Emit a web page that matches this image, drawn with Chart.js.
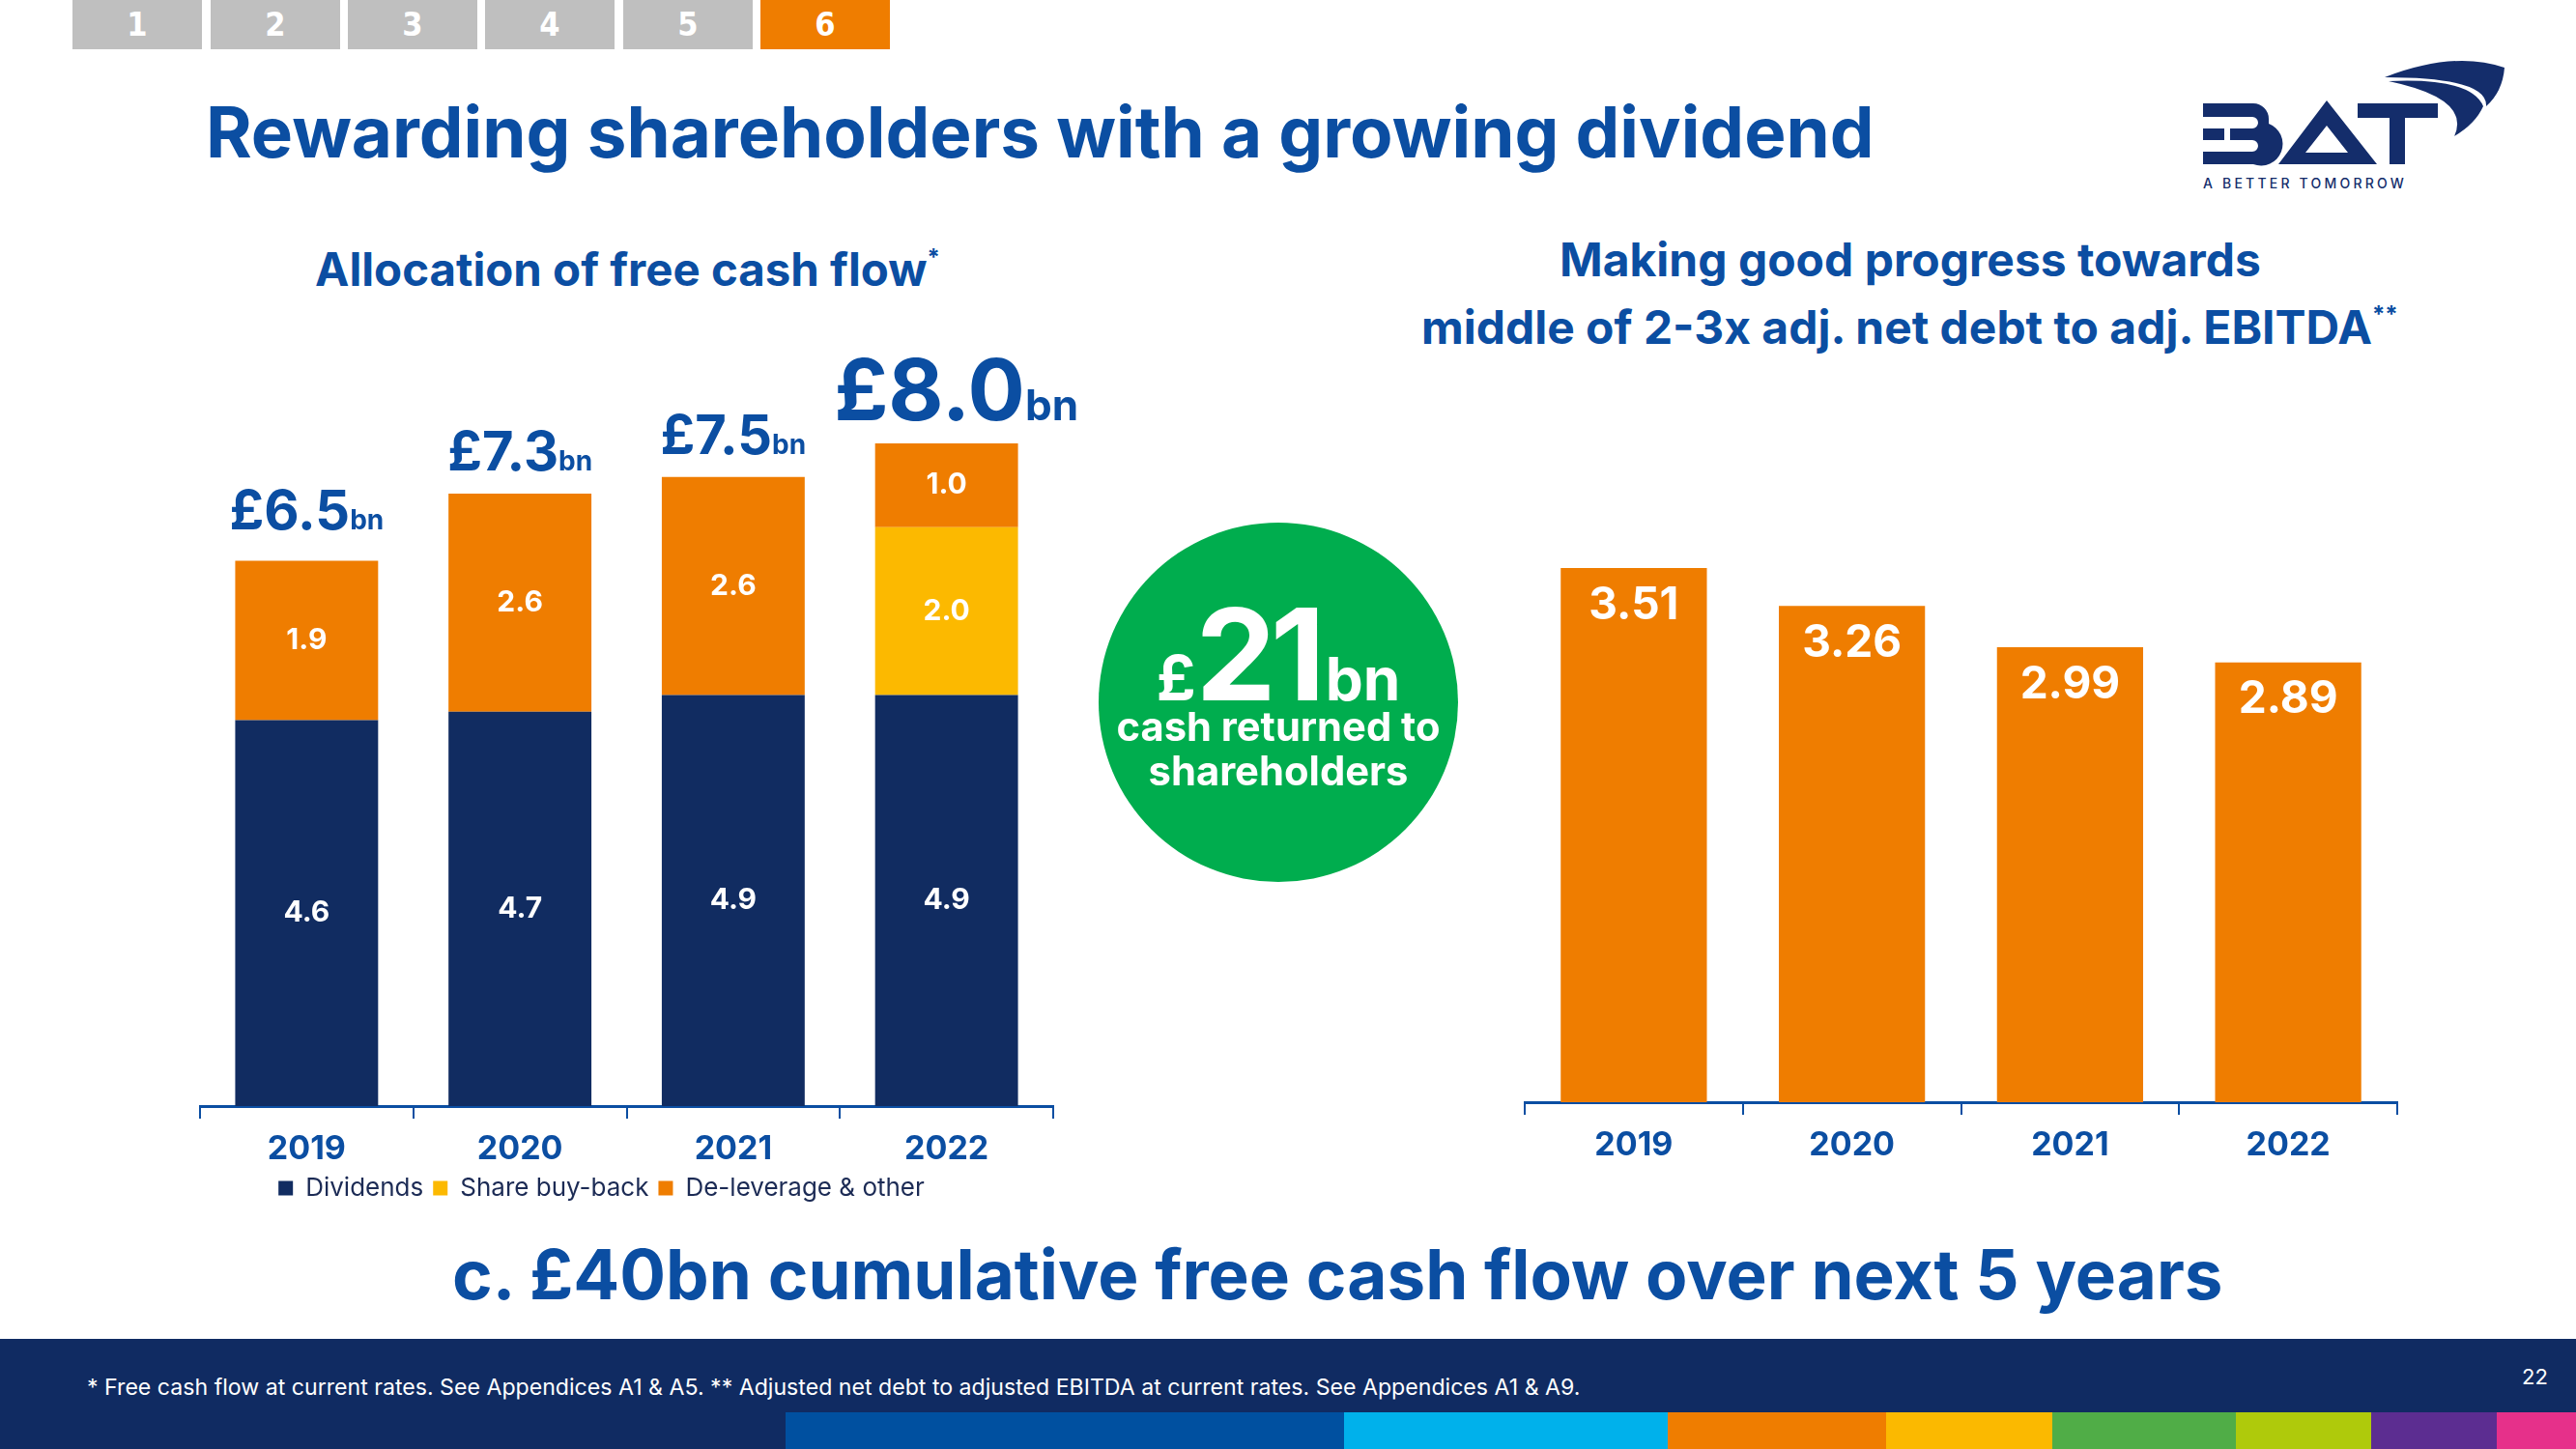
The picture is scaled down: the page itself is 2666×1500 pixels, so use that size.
<!DOCTYPE html>
<html>
<head>
<meta charset="utf-8">
<script src="https://cdn.jsdelivr.net/npm/chart.js@4/dist/chart.umd.min.js"></script>
<style>
  body { margin: 0; width: 2666px; height: 1500px; position: relative; overflow: hidden; background: #fff; font-family: Inter, 'Open Sans', sans-serif; }
  .abs { position: absolute; white-space: nowrap; line-height: 1; }
  .blue { color: #0b4ea2; font-weight: 700; }
  .tab { position: absolute; top: 0; width: 134px; height: 51px; background: #bfbfbf; color: #fff;
         font: 700 34px 'Liberation Sans Narrow', 'DejaVu Sans Condensed', sans-serif; text-align: center; line-height: 51px; }
  .tab.on { background: #ef7d00; }
  sup { font-size: 0.5em; vertical-align: 0.9em; }
  .stripe { position: absolute; top: 1462px; height: 38px; }
</style>
</head>
<body>

<!-- section tabs -->
<div class="tab" style="left:75px">1</div>
<div class="tab" style="left:218px">2</div>
<div class="tab" style="left:360px">3</div>
<div class="tab" style="left:502px">4</div>
<div class="tab" style="left:645px">5</div>
<div class="tab on" style="left:787px">6</div>

<div class="abs blue" data-w="1727" style="left:213px; top:137px; font-size:72px; transform:translateY(-50%)">Rewarding shareholders with a growing dividend</div>

<!-- logo -->
<svg class="abs" style="left:2240px; top:40px" width="426" height="170" viewBox="0 0 426 170">
  <g fill="#142d6b">
    <path d="M40 67 H92 A16 16 0 0 1 108 83 V88 A21 21 0 0 1 92 130 H40 V117 H91 A6 6 0 0 0 91 105 H68 V93 H91 A5 5 0 0 0 91 81 H40 Z"/>
    <path d="M40 93 H62 V105 H40 Z"/>
    <path fill-rule="evenodd" d="M118 130 L168 64 L220 130 Z M146 118 L168 90 L190 118 Z"/>
    <path d="M200 67 H283 V82 H200 Z M233 82 H249 V130 H233 Z"/>
    <path d="M228 40 Q300 12 352 30 Q350 55 333 70 Q335 40 228 40 Z"/>
    <path d="M232 44 Q318 40 330 70 Q322 88 300 101 Q318 62 232 44 Z"/>
    <text x="40" y="155" font-family="Inter, sans-serif" font-size="14" font-weight="500" letter-spacing="3.2">A BETTER TOMORROW</text>
  </g>
</svg>

<div class="abs blue" data-w="647" style="left:326px; top:279px; font-size:44px; transform:translateY(-50%)">Allocation of free cash flow<sup>*</sup></div>
<div class="abs blue" data-w="726" style="left:1614px; top:269px; font-size:44px; transform:translateY(-50%)">Making good progress towards</div>
<div class="abs blue" data-w="1011" style="left:1471px; top:339px; font-size:44px; transform:translateY(-50%)">middle of 2-3x adj. net debt to adj. EBITDA<sup>**</sup></div>

<div style="position:absolute; left:204px; top:346px;"><canvas id="fcfChart" width="949" height="907"></canvas></div>
<div style="position:absolute; left:1575px; top:432px;"><canvas id="debtChart" width="909" height="771"></canvas></div>

<!-- green roundel -->
<div style="position:absolute; left:1137px; top:541px; width:372px; height:372px; border-radius:50%; background:#00ad4e;"></div>
<div class="abs" style="left:1323px; top:611px; transform:translateX(-50%); display:flex; align-items:baseline; color:#fff; font-weight:700;">
  <span style="font-size:64px">£</span><span style="font-size:132px; letter-spacing:-6px">21</span><span style="font-size:62px; margin-left:6px">bn</span>
</div>
<div class="abs" data-w="335" style="left:1323px; top:753px; font-size:38px; font-weight:700; color:#fff; transform:translate(-50%,-50%)">cash returned to</div>
<div class="abs" data-w="269" style="left:1323px; top:799px; font-size:38px; font-weight:700; color:#fff; transform:translate(-50%,-50%)">shareholders</div>

<div class="abs blue" data-w="1833" style="left:468px; top:1319px; font-size:72px; transform:translateY(-50%)">c. £40bn cumulative free cash flow over next 5 years</div>

<!-- footer -->
<div style="position:absolute; left:0; top:1386px; width:2666px; height:114px; background:#102b62;"></div>
<div class="abs" data-w="1547" style="left:90px; top:1437px; font-size:22px; color:#fff; transform:translateY(-50%)">* Free cash flow at current rates. See Appendices A1 &amp; A5. ** Adjusted net debt to adjusted EBITDA at current rates. See Appendices A1 &amp; A9.</div>
<div class="abs" style="left:2610px; top:1425px; font-size:22px; color:#fff; transform:translateY(-50%)">22</div>
<div class="stripe" style="left:813px; width:578px; background:#0050a0"></div>
<div class="stripe" style="left:1391px; width:335px; background:#00b1eb"></div>
<div class="stripe" style="left:1726px; width:226px; background:#ef7d00"></div>
<div class="stripe" style="left:1952px; width:172px; background:#fbb900"></div>
<div class="stripe" style="left:2124px; width:190px; background:#50ad47"></div>
<div class="stripe" style="left:2314px; width:140px; background:#afca0b"></div>
<div class="stripe" style="left:2454px; width:130px; background:#5c2d91"></div>
<div class="stripe" style="left:2584px; width:82px; background:#e6308a"></div>

<script>
// data
const years = ['2019', '2020', '2021', '2022'];
const dividends = [4.6, 4.7, 4.9, 4.9];
const buyBack = [0, 0, 0, 2.0];
const deleverage = [1.9, 2.6, 2.6, 1.0];
const fcfTotals = [6.5, 7.3, 7.5, 8.0];
const netDebtRatio = [3.51, 3.26, 2.99, 2.89];

const BLUE = '#0b4ea2';
const NAVY = '#112c61';
const ORANGE = '#ef7d00';
const YELLOW = '#fcb900';
const FONT = 'Inter, "Open Sans", sans-serif';

// squeeze / stretch text blocks to the widths on the slide
document.querySelectorAll('[data-w]').forEach(el => {
    const w = el.getBoundingClientRect().width;
    const size = parseFloat(getComputedStyle(el).fontSize);
    el.style.fontSize = (size * el.dataset.w / w) + 'px';
});

function xAxis() {
    return {
        stacked: true,
        grid: { offset: true, drawOnChartArea: false, tickLength: 13, color: BLUE, lineWidth: 2 },
        border: { color: BLUE, width: 3 },
        ticks: { color: BLUE, padding: 11, font: { family: FONT, size: 34, weight: 700 } },
        afterFit(scale) { scale.height = 62; }
    };
}

// values in the middle of each segment + the £ total above each stack
const stackLabels = {
    id: 'stackLabels',
    afterDatasetsDraw(chart) {
        const ctx = chart.ctx;
        ctx.save();
        ctx.fillStyle = '#fff';
        ctx.font = `700 30px ${FONT}`;
        ctx.textAlign = 'center';
        ctx.textBaseline = 'middle';
        chart.data.datasets.forEach((ds, i) => {
            chart.getDatasetMeta(i).data.forEach((bar, j) => {
                if (!ds.data[j]) return;
                ctx.fillText(ds.data[j].toFixed(1), bar.x, (bar.y + bar.base) / 2);
            });
        });

        const tops = chart.getDatasetMeta(chart.data.datasets.length - 1).data;
        ctx.fillStyle = BLUE;
        ctx.textAlign = 'left';
        ctx.textBaseline = 'alphabetic';
        tops.forEach((bar, j) => {
            const last = j === tops.length - 1;
            const big = last ? 88 : 56;
            const small = Math.round(big * 0.5);
            const main = '£' + fcfTotals[j].toFixed(1);
            ctx.font = `700 ${big}px ${FONT}`;
            const w1 = ctx.measureText(main).width;
            ctx.font = `700 ${small}px ${FONT}`;
            const w2 = ctx.measureText('bn').width;
            const x0 = bar.x - (w1 + w2) / 2 + (last ? 10 : 0);
            const y = bar.y - (j === 0 ? 32 : 24);
            ctx.font = `700 ${big}px ${FONT}`;
            ctx.fillText(main, x0, y);
            ctx.font = `700 ${small}px ${FONT}`;
            ctx.fillText('bn', x0 + w1, y);
        });
        ctx.restore();
    }
};

// the slide's legend sits a little left of the plot centre
const legendNudge = {
    id: 'legendNudge',
    afterLayout(chart) {
        chart.legend.left -= 26;
        chart.legend.right -= 26;
    }
};

const topLabels = {
    id: 'topLabels',
    afterDatasetsDraw(chart) {
        const ctx = chart.ctx;
        ctx.save();
        ctx.fillStyle = '#fff';
        ctx.font = `700 46px ${FONT}`;
        ctx.textAlign = 'center';
        ctx.textBaseline = 'middle';
        chart.getDatasetMeta(0).data.forEach((bar, j) => {
            ctx.fillText(netDebtRatio[j].toFixed(2), bar.x, bar.y + 39);
        });
        ctx.restore();
    }
};

const barStyle = { barPercentage: 0.67, categoryPercentage: 1, borderWidth: 0 };

new Chart(document.getElementById('fcfChart'), {
    type: 'bar',
    data: {
        labels: years,
        datasets: [
            { label: 'Dividends', data: dividends, backgroundColor: NAVY, ...barStyle },
            { label: 'Share buy-back', data: buyBack, backgroundColor: YELLOW, ...barStyle },
            { label: 'De-leverage & other', data: deleverage, backgroundColor: ORANGE, ...barStyle }
        ]
    },
    options: {
        responsive: false,
        devicePixelRatio: 1,
        animation: false,
        layout: { padding: { left: 3, right: 63 } },
        plugins: {
            legend: {
                position: 'bottom',
                labels: { boxWidth: 15, boxHeight: 15, padding: 10, color: '#1c2b55', font: { family: FONT, size: 26 } }
            },
            tooltip: { enabled: false }
        },
        scales: {
            x: xAxis(),
            y: { stacked: true, display: false, min: 0, max: 9.2 }
        }
    },
    plugins: [stackLabels, legendNudge]
});

new Chart(document.getElementById('debtChart'), {
    type: 'bar',
    data: {
        labels: years,
        datasets: [{ label: 'Adj. net debt / adj. EBITDA', data: netDebtRatio, backgroundColor: ORANGE, ...barStyle }]
    },
    options: {
        responsive: false,
        devicePixelRatio: 1,
        animation: false,
        layout: { padding: { left: 3, right: 3 } },
        plugins: { legend: { display: false }, tooltip: { enabled: false } },
        scales: {
            x: xAxis(),
            y: { display: false, min: 0, max: 4.5 }
        }
    },
    plugins: [topLabels]
});
</script>
</body>
</html>
